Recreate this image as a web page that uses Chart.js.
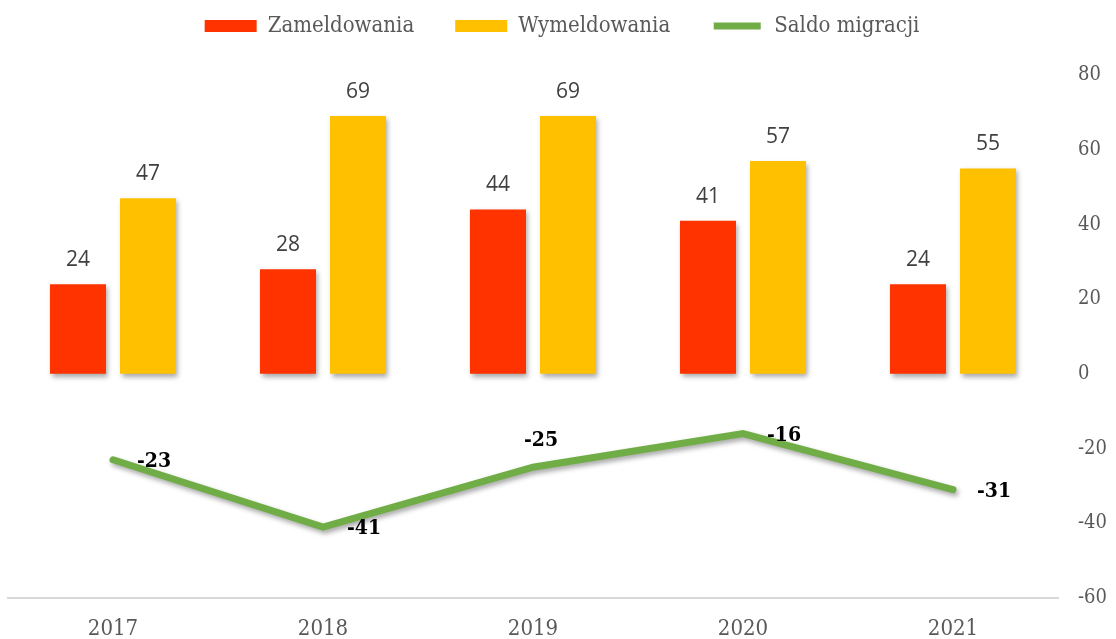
<!DOCTYPE html>
<html>
<head>
<meta charset="utf-8">
<script src="https://cdn.jsdelivr.net/npm/chart.js@4/dist/chart.umd.min.js"></script>
<style>
  html, body { margin: 0; padding: 0; background: #fff; }
  #wrap { width: 1116px; height: 639px; }
</style>
</head>
<body>
<div id="wrap"><canvas id="chart"></canvas></div>
<script>
const years = ['2017', '2018', '2019', '2020', '2021'];
const zameldowania = [24, 28, 44, 41, 24];
const wymeldowania = [47, 69, 69, 57, 55];
const saldo = [-23, -41, -25, -16, -31];
const saldoLabelPos = ['right', 'right', 'above', 'right', 'right'];
const yTicks = [-60, -40, -20, 0, 20, 40, 60, 80];

const serif = "'DejaVu Serif Condensed', 'DejaVu Serif', serif";

// soft drop shadow like the office chart
const shadowPlugin = {
    id: 'shadow',
    beforeDatasetDraw(chart) {
        const ctx = chart.ctx;
        ctx.save();
        ctx.shadowColor = 'rgba(0,0,0,0.35)';
        ctx.shadowBlur = 5;
        ctx.shadowOffsetX = 2;
        ctx.shadowOffsetY = 3;
    },
    afterDatasetDraw(chart) {
        chart.ctx.restore();
    }
};

// make room under the legend so the plot starts lower
const legendSpace = {
    id: 'legendSpace',
    beforeInit(chart) {
        const fit = chart.legend.fit;
        chart.legend.fit = function() {
            fit.bind(chart.legend)();
            this.height = 101;
        };
    }
};

// value labels
const labelPlugin = {
    id: 'valueLabels',
    afterDatasetsDraw(chart) {
        const ctx = chart.ctx;
        ctx.save();
        chart.data.datasets.forEach((ds, i) => {
            const meta = chart.getDatasetMeta(i);
            meta.data.forEach((el, j) => {
                const v = ds.data[j];
                if (ds.type === 'line') {
                    ctx.font = "bold 21px " + serif;
                    ctx.fillStyle = '#000';
                    ctx.textBaseline = 'middle';
                    if (saldoLabelPos[j] === 'above') {
                        ctx.textAlign = 'center';
                        ctx.fillText(v, el.x + 8, el.y - 27);
                    } else {
                        ctx.textAlign = 'left';
                        ctx.fillText(v, el.x + 24, el.y + 2);
                    }
                } else {
                    ctx.font = "21px 'Open Sans', sans-serif";
                    ctx.fillStyle = '#404040';
                    ctx.textAlign = 'center';
                    ctx.textBaseline = 'alphabetic';
                    ctx.fillText(v, el.x, el.y - 18);
                }
            });
        });
        ctx.restore();
    }
};

new Chart(document.getElementById('chart'), {
    data: {
        labels: years,
        datasets: [
            {
                type: 'bar',
                label: 'Zameldowania',
                data: zameldowania,
                backgroundColor: '#ff3300',
                barPercentage: 0.8,
                categoryPercentage: 0.667,
                order: 2
            },
            {
                type: 'bar',
                label: 'Wymeldowania',
                data: wymeldowania,
                backgroundColor: '#ffc000',
                barPercentage: 0.8,
                categoryPercentage: 0.667,
                order: 2
            },
            {
                type: 'line',
                label: 'Saldo migracji',
                data: saldo,
                borderColor: '#70ad47',
                backgroundColor: '#70ad47',
                borderWidth: 7,
                borderCapStyle: 'round',
                borderJoinStyle: 'miter',
                pointRadius: 0,
                tension: 0,
                order: 1
            }
        ]
    },
    options: {
        responsive: true,
        maintainAspectRatio: false,
        animation: false,
        layout: { padding: { left: 8, right: 0, top: -26, bottom: 0 } },
        plugins: {
            tooltip: { enabled: false },
            legend: {
                position: 'top',
                labels: {
                    boxWidth: 52,
                    boxHeight: 12,
                    padding: 41,
                    color: '#595959',
                    font: { family: serif, size: 22 },
                    sort: (a, b) => a.datasetIndex - b.datasetIndex,
                    generateLabels(chart) {
                        const items = Chart.defaults.plugins.legend.labels.generateLabels(chart);
                        items.forEach(it => {
                            const ds = chart.data.datasets[it.datasetIndex];
                            if (ds.type === 'line') {
                                it.fillStyle = '#70ad47';
                                it.strokeStyle = '#fff';
                                it.lineWidth = 5;
                            } else {
                                it.lineWidth = 0;
                            }
                        });
                        return items;
                    }
                }
            }
        },
        scales: {
            x: {
                grid: { display: false, drawTicks: false },
                border: { display: true, color: '#d9d9d9', width: 2 },
                afterFit: (s) => { s.height = 41; },
                ticks: {
                    color: '#595959',
                    padding: 18,
                    font: { family: serif, size: 22 }
                }
            },
            y: {
                position: 'right',
                min: -60,
                max: 80,
                afterBuildTicks: (axis) => { axis.ticks = yTicks.map(v => ({ value: v })); },
                afterFit: (s) => { s.width = 58; },
                grid: { display: false, drawTicks: false },
                border: { display: false },
                ticks: {
                    color: '#595959',
                    padding: 20,
                    font: { family: serif, size: 20 }
                }
            }
        }
    },
    plugins: [shadowPlugin, labelPlugin, legendSpace]
});
</script>
</body>
</html>
